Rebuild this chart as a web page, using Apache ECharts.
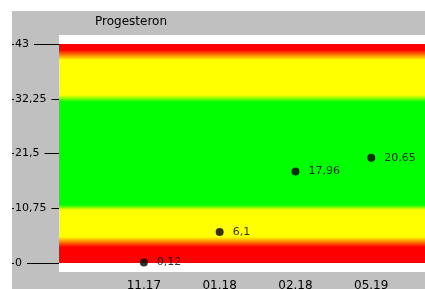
<!DOCTYPE html>
<html>
<head>
<meta charset="utf-8">
<script src="https://cdn.jsdelivr.net/npm/echarts@6/dist/echarts.min.js"></script>
<style>
  html, body { margin: 0; padding: 0; background: #ffffff; }
  #chart { width: 425px; height: 289px; }
</style>
</head>
<body>
<div id="chart"></div>
<script>
// data
const categories = ["11.17", "01.18", "02.18", "05.19"];
const values = [0.12, 6.1, 17.96, 20.65];
const yTicks = [0, 10.75, 21.5, 32.25, 43];
const rangeMin = 0;
const rangeMax = 43;

const fmt = v => String(v).replace(".", ",");

let chart = echarts.init(document.getElementById("chart"));

chart.setOption({
  animation: false,
  backgroundColor: "#ffffff",
  textStyle: { fontFamily: "DejaVu Sans" },
  graphic: [
    {
      type: "rect",
      z: -10,
      shape: { x: 12, y: 11, width: 413, height: 278 },
      style: { fill: "#c0c0c0" }
    },
    {
      type: "text",
      left: 95,
      top: 16,
      style: { text: "Progesteron", fontSize: 12, fill: "#000000", fontFamily: "DejaVu Sans" }
    }
  ],
  grid: {
    left: 59,
    right: 0,
    top: 35,
    bottom: 17,
    outerBoundsMode: "none",
    show: true,
    backgroundColor: "#ffffff",
    borderWidth: 0
  },
  xAxis: {
    type: "value",
    min: -1.12,
    max: 3.71,
    splitLine: { show: false },
    axisLine: { show: false, onZero: false },
    axisTick: { show: false },
    axisLabel: {
      customValues: [0, 1, 2, 3],
      formatter: v => categories[v],
      color: "#000000",
      fontSize: 12,
      margin: 8
    }
  },
  yAxis: {
    type: "value",
    min: -1.77,
    max: 44.77,
    splitLine: { show: false },
    axisLine: { show: false, onZero: false },
    axisTick: {
      show: true,
      customValues: yTicks,
      length: 47,
      lineStyle: { color: "#000000", width: 1 }
    },
    axisLabel: {
      customValues: yTicks,
      formatter: v => fmt(v),
      align: "left",
      margin: 45,
      color: "#000000",
      fontSize: 11,
      backgroundColor: "#c0c0c0",
      padding: [0, 5, 0, 1]
    }
  },
  series: [
    {
      type: "scatter",
      data: values.map((v, i) => [i, v]),
      symbolSize: 8,
      itemStyle: { color: "#000000" },
      label: {
        show: true,
        position: "right",
        distance: 9,
        formatter: p => fmt(p.value[1]),
        color: "#000000",
        fontSize: 11
      },
      markArea: {
        silent: true,
        itemStyle: {
          color: new echarts.graphic.LinearGradient(0, 0, 0, 1, [
            { offset: 0, color: "#ff0000" },
            { offset: 0.027, color: "#ff0000" },
            { offset: 0.073, color: "#ffff00" },
            { offset: 0.233, color: "#ffff00" },
            { offset: 0.265, color: "#00ff00" },
            { offset: 0.735, color: "#00ff00" },
            { offset: 0.758, color: "#ffff00" },
            { offset: 0.881, color: "#ffff00" },
            { offset: 0.927, color: "#ff0000" },
            { offset: 1, color: "#ff0000" }
          ])
        },
        data: [[{ yAxis: rangeMax }, { yAxis: rangeMin }]]
      }
    }
  ]
});
</script>
</body>
</html>
